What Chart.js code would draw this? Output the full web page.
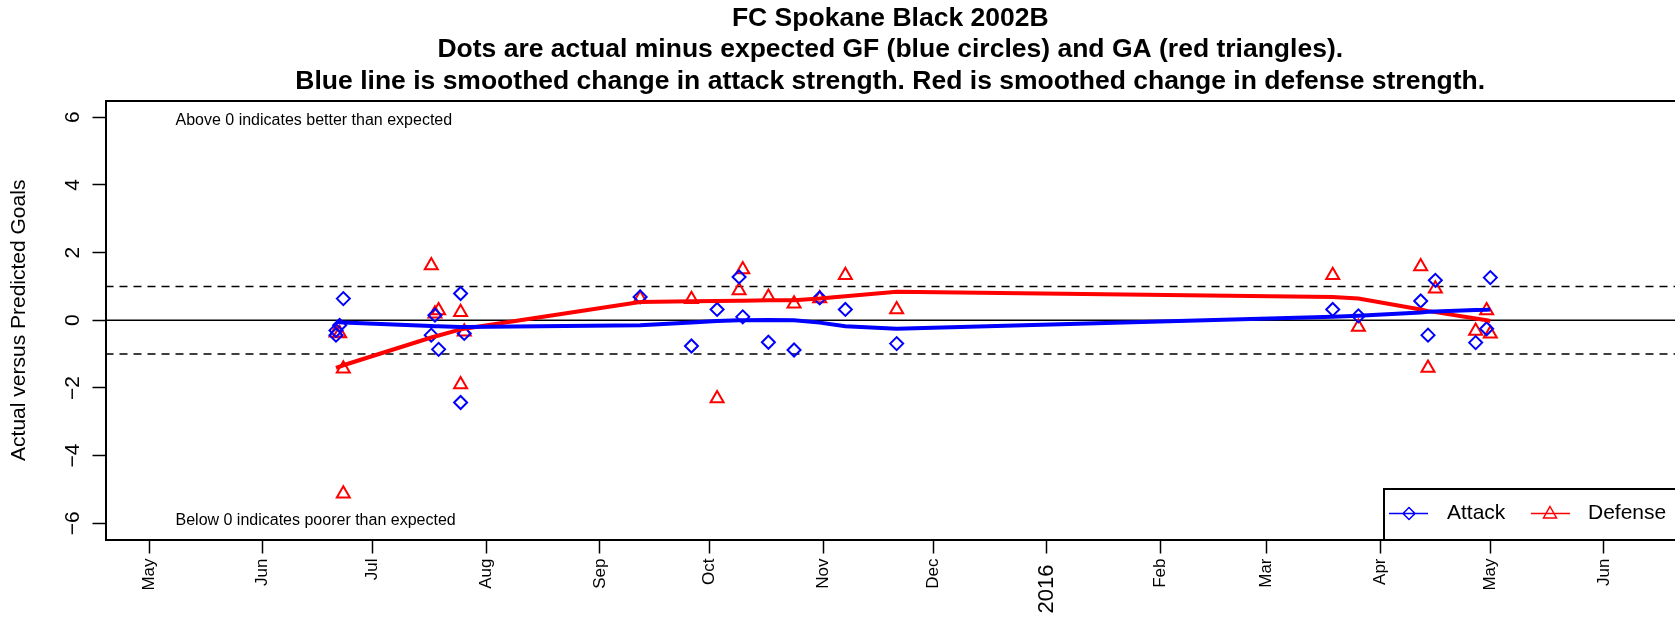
<!DOCTYPE html>
<html>
<head>
<meta charset="utf-8">
<script src="https://cdn.jsdelivr.net/npm/chart.js@4.4.1/dist/chart.umd.min.js"></script>
<style>
  html, body { margin: 0; padding: 0; background: #fff; overflow: hidden; }
  #wrap { width: 1675px; height: 618px; }
</style>
</head>
<body>
<div id="wrap"><canvas id="chart"></canvas></div>
<script>
// game results: actual minus expected goals
var attackDates = ["2015-06-21", "2015-06-21", "2015-06-22", "2015-06-23", "2015-07-17", "2015-07-18", "2015-07-19",
    "2015-07-25", "2015-07-25", "2015-07-26", "2015-09-12", "2015-09-26", "2015-10-03", "2015-10-09", "2015-10-10",
    "2015-10-17", "2015-10-24", "2015-10-31", "2015-11-07", "2015-11-21", "2016-03-19", "2016-03-26", "2016-04-12",
    "2016-04-14", "2016-04-16", "2016-04-27", "2016-04-30", "2016-05-01"];
var attackValues = [-0.44, -0.30, -0.15, 0.64, -0.44, 0.15, -0.86, 0.79, -2.43, -0.39, 0.69, -0.76, 0.32, 1.28, 0.10,
    -0.65, -0.88, 0.66, 0.32, -0.69, 0.32, 0.13, 0.57, -0.44, 1.18, -0.66, -0.25, 1.26];

var defenseDates = ["2015-06-21", "2015-06-22", "2015-06-23", "2015-06-23", "2015-07-17", "2015-07-18", "2015-07-19",
    "2015-07-25", "2015-07-25", "2015-07-26", "2015-09-12", "2015-09-26", "2015-10-03", "2015-10-09", "2015-10-10",
    "2015-10-17", "2015-10-24", "2015-10-31", "2015-11-07", "2015-11-21", "2016-03-19", "2016-03-26", "2016-04-12",
    "2016-04-14", "2016-04-16", "2016-04-27", "2016-04-30", "2016-05-01"];
var defenseValues = [-0.37, -0.39, -1.43, -5.13, 1.62, 0.19, 0.29, 0.24, -1.90, -0.34, 0.64, 0.62, -2.31, 0.88, 1.50,
    0.69, 0.49, 0.64, 1.33, 0.32, 1.33, -0.20, 1.59, -1.41, 0.93, -0.32, 0.29, -0.40];

// smoothed strength changes
var trendDates = ["2015-06-21", "2015-06-22", "2015-06-23", "2015-07-17", "2015-07-18", "2015-07-19", "2015-07-25",
    "2015-07-26", "2015-09-12", "2015-09-26", "2015-10-03", "2015-10-09", "2015-10-10", "2015-10-17", "2015-10-24",
    "2015-10-31", "2015-11-07", "2015-11-21", "2016-03-19", "2016-03-26", "2016-04-12", "2016-04-14", "2016-04-16",
    "2016-04-27", "2016-04-30", "2016-05-01"];
var attackTrend = [-0.05, -0.06, -0.07, -0.17, -0.18, -0.18, -0.20, -0.20, -0.15, -0.07, -0.02, 0.00, 0.00, 0.01, 0.00,
    -0.07, -0.18, -0.25, 0.10, 0.13, 0.23, 0.25, 0.26, 0.30, 0.31, 0.32];
var defenseTrend = [-1.41, -1.37, -1.33, -0.51, -0.48, -0.45, -0.27, -0.25, 0.54, 0.56, 0.57, 0.58, 0.58, 0.59, 0.59,
    0.64, 0.71, 0.84, 0.69, 0.64, 0.32, 0.27, 0.24, 0.05, 0.00, -0.02];

var monthTickDates = ["2015-05-01", "2015-06-01", "2015-07-01", "2015-08-01", "2015-09-01", "2015-10-01", "2015-11-01",
    "2015-12-01", "2016-01-01", "2016-02-01", "2016-03-01", "2016-04-01", "2016-05-01", "2016-06-01"];
var monthTickLabels = ["May", "Jun", "Jul", "Aug", "Sep", "Oct", "Nov", "Dec", "2016", "Feb", "Mar", "Apr", "May", "Jun"];
var yTicks = [-6, -4, -2, 0, 2, 4, 6];
var refLines = [-1, 0, 1];

var titleLines = ["FC Spokane Black 2002B",
    "Dots are actual minus expected GF (blue circles) and GA (red triangles).",
    "Blue line is smoothed change in attack strength. Red is smoothed change in defense strength."];
var noteAbove = "Above 0 indicates better than expected";
var noteBelow = "Below 0 indicates poorer than expected";

var FONT = "'Liberation Sans', Arial, Helvetica, sans-serif";
var origin = Date.parse("2015-05-01");
function dayNum(s) { return (Date.parse(s) - origin) / 86400000; }
function pts(dates, vals) { return dates.map(function (d, i) { return {x: dayNum(d), y: vals[i]}; }); }

var monthTicks = monthTickDates.map(dayNum);
var yearTick = dayNum("2016-01-01");
var xMin = -11.9, xMax = 416.4;

var datasets = [
    {type: "line", label: "Attack", data: pts(trendDates, attackTrend), borderColor: "#0000FF", borderWidth: 4,
        pointRadius: 0, tension: 0, fill: false},
    {type: "line", label: "Defense", data: pts(trendDates, defenseTrend), borderColor: "#FF0000", borderWidth: 4,
        pointRadius: 0, tension: 0, fill: false},
    {type: "scatter", label: "Attack points", data: pts(attackDates, attackValues), pointStyle: "rectRot",
        pointRadius: 6.5, pointBorderWidth: 2, borderColor: "#0000FF", backgroundColor: "rgba(0,0,0,0)"},
    {type: "scatter", label: "Defense points", data: pts(defenseDates, defenseValues), pointStyle: "triangle",
        pointRadius: 7.5, pointBorderWidth: 2, borderColor: "#FF0000", backgroundColor: "rgba(0,0,0,0)"}
];
refLines.forEach(function (v) {
    datasets.push({type: "line", label: "ref" + v, data: [{x: xMin, y: v}, {x: xMax, y: v}], borderColor: "#000",
        borderWidth: 1.5, borderDash: v === 0 ? [] : [8, 6], pointRadius: 0, fill: false});
});

var extras = {
    id: "extras",
    afterDraw: function (chart) {
        var ctx = chart.ctx, a = chart.chartArea;
        ctx.save();
        ctx.strokeStyle = "#000";
        ctx.lineWidth = 2;
        ctx.beginPath();
        ctx.moveTo(a.left, a.top);
        ctx.lineTo(a.right, a.top);
        ctx.stroke();

        ctx.fillStyle = "#000";
        ctx.font = "16px " + FONT;
        ctx.textBaseline = "middle";
        ctx.textAlign = "left";
        ctx.fillText(noteAbove, a.left + 70, a.top + 20);
        ctx.fillText(noteBelow, a.left + 70, a.bottom - 19);

        // legend box, R style
        var bx = a.right - 291, by = a.bottom - 50.5, ly = a.bottom - 26;
        ctx.lineWidth = 2;
        ctx.beginPath();
        ctx.moveTo(bx, a.bottom);
        ctx.lineTo(bx, by);
        ctx.lineTo(a.right + 5, by);
        ctx.stroke();

        ctx.lineWidth = 1.5;
        ctx.strokeStyle = "#0000FF";
        ctx.beginPath();
        ctx.moveTo(bx + 5, ly); ctx.lineTo(bx + 44, ly);
        ctx.moveTo(bx + 25 - 6, ly); ctx.lineTo(bx + 25, ly - 6); ctx.lineTo(bx + 25 + 6, ly);
        ctx.lineTo(bx + 25, ly + 6); ctx.closePath();
        ctx.stroke();

        ctx.strokeStyle = "#FF0000";
        ctx.beginPath();
        ctx.moveTo(bx + 147, ly); ctx.lineTo(bx + 186, ly);
        ctx.stroke();
        ctx.beginPath();
        ctx.moveTo(bx + 166, ly - 7); ctx.lineTo(bx + 166 + 6.5, ly + 4.5); ctx.lineTo(bx + 166 - 6.5, ly + 4.5);
        ctx.closePath();
        ctx.stroke();

        ctx.fillStyle = "#000";
        ctx.font = "21px " + FONT;
        ctx.fillText("Attack", bx + 63, ly);
        ctx.fillText("Defense", bx + 204, ly);
        ctx.restore();
    }
};

new Chart(document.getElementById("chart"), {
    type: "scatter",
    data: {datasets: datasets},
    plugins: [extras],
    options: {
        responsive: true,
        maintainAspectRatio: false,
        animation: false,
        events: [],
        layout: {padding: 0, autoPadding: false},
        plugins: {
            legend: {display: false},
            tooltip: {enabled: false},
            title: {
                display: true,
                fullSize: false,
                text: titleLines,
                color: "#000",
                font: {family: FONT, size: 26.5, weight: "bold", lineHeight: 1.19},
                padding: {top: 2.5, bottom: 3.9}
            }
        },
        scales: {
            x: {
                type: "linear",
                min: xMin,
                max: xMax,
                afterBuildTicks: function (s) { s.ticks = monthTicks.map(function (v) { return {value: v}; }); },
                afterFit: function (s) { s.height = 78.5; },
                ticks: {
                    autoSkip: false,
                    minRotation: 90,
                    maxRotation: 90,
                    padding: 5,
                    color: "#000",
                    font: function (c) {
                        var big = c.tick && c.tick.value === yearTick;
                        return {family: FONT, size: big ? 22 : 17};
                    },
                    callback: function (v) {
                        var i = monthTicks.indexOf(v);
                        if (i < 0) return "";
                        // year label sits a little further from the axis
                        return v === yearTick ? monthTickLabels[i] + " " : monthTickLabels[i];
                    }
                },
                grid: {drawOnChartArea: false, drawTicks: true, tickLength: 14, tickColor: "#000", tickWidth: 1.5},
                border: {display: true, color: "#000", width: 2}
            },
            y: {
                type: "linear",
                min: -6.48,
                max: 6.48,
                afterBuildTicks: function (s) { s.ticks = yTicks.map(function (v) { return {value: v}; }); },
                afterFit: function (s) { s.width = 105.5; },
                ticks: {
                    minRotation: 90,
                    maxRotation: 90,
                    crossAlign: "center",
                    padding: 7.5,
                    color: "#000",
                    font: {family: FONT, size: 21},
                    callback: function (v) { return v < 0 ? "\u2212" + Math.abs(v) : String(v); }
                },
                grid: {drawOnChartArea: false, drawTicks: true, tickLength: 13, tickColor: "#000", tickWidth: 1.5},
                border: {display: true, color: "#000", width: 2},
                title: {
                    display: true,
                    text: "Actual versus Predicted Goals",
                    color: "#000",
                    font: {family: FONT, size: 21},
                    padding: {top: 7, bottom: 0}
                }
            }
        }
    }
});
</script>
</body>
</html>
